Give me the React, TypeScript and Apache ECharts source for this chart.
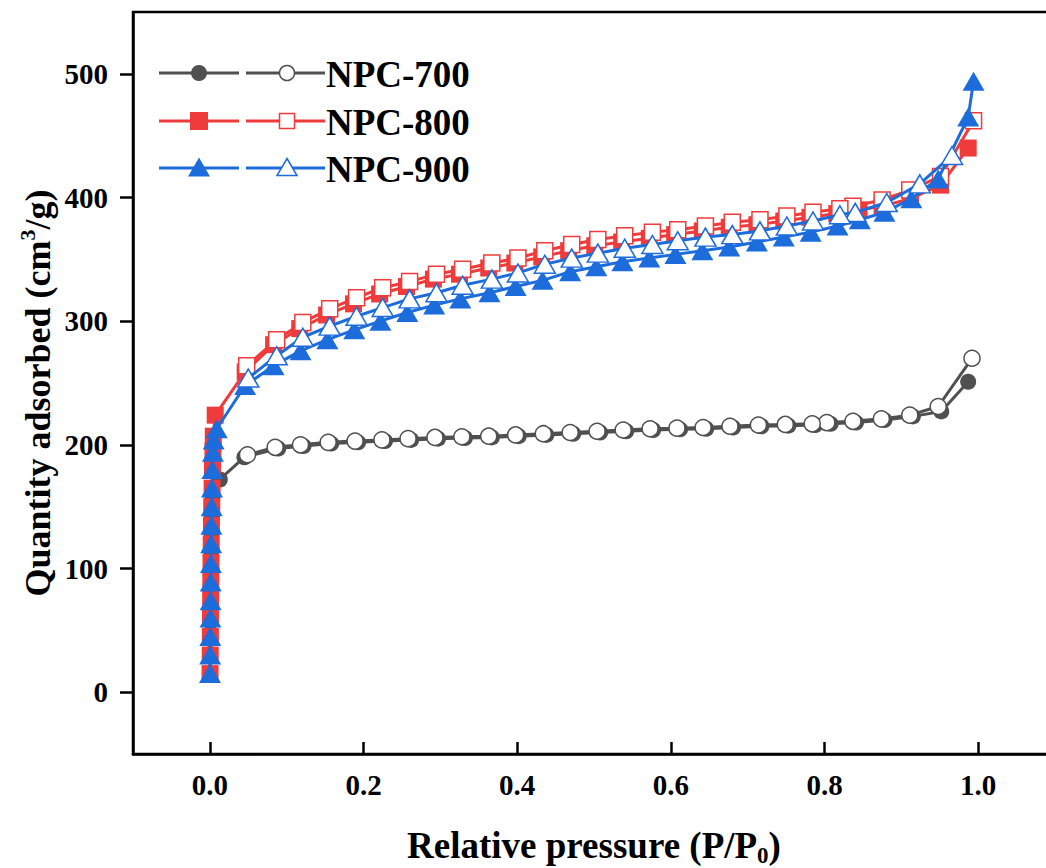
import React, { useEffect, useRef } from "react";
import * as echarts from "echarts";

const FONT = "'Liberation Serif', 'Times New Roman', serif";
const C700 = "#505050";
const C800 = "#ef3b3b";
const C900 = "#1c6cdc";

const xTicks = [0, 0.2, 0.4, 0.6, 0.8, 1.0];
const yTicks = [0, 100, 200, 300, 400, 500];

const npc700Ads = [
  [0.0003, 15], [0.0005, 29], [0.0007, 43], [0.0009, 57], [0.0011, 71], [0.0013, 86],
  [0.0016, 100], [0.0019, 114], [0.0023, 129], [0.0028, 143], [0.0035, 158], [0.013, 172],
  [0.045, 190], [0.089, 197], [0.122, 199], [0.158, 201], [0.193, 202], [0.228, 203],
  [0.262, 204], [0.297, 205], [0.332, 205.5], [0.367, 206], [0.402, 207], [0.438, 208],
  [0.473, 209], [0.508, 210], [0.542, 211], [0.577, 212], [0.612, 212.5], [0.646, 213],
  [0.681, 214], [0.718, 215], [0.753, 215.5], [0.788, 216], [0.808, 217], [0.841, 218],
  [0.878, 220], [0.915, 223], [0.952, 227], [0.987, 251],
];
const npc700Des = [
  [0.992, 270], [0.948, 231], [0.911, 224], [0.874, 221], [0.837, 219], [0.803, 218],
  [0.784, 217], [0.749, 216.5], [0.714, 216], [0.677, 215], [0.642, 214], [0.608, 213.5],
  [0.573, 213], [0.538, 212], [0.504, 211], [0.469, 210], [0.434, 209], [0.398, 208],
  [0.363, 207], [0.328, 206.5], [0.293, 206], [0.258, 205], [0.224, 204], [0.189, 203],
  [0.154, 202], [0.118, 200], [0.085, 198], [0.049, 192],
];
const npc800Ads = [
  [0.0003, 15], [0.0005, 30], [0.0007, 45], [0.0009, 60], [0.0011, 75], [0.0013, 90],
  [0.0015, 105], [0.0018, 120], [0.0021, 135], [0.0025, 150], [0.003, 165], [0.0035, 180],
  [0.004, 195], [0.0045, 207], [0.007, 224], [0.046, 259], [0.083, 281], [0.117, 294],
  [0.152, 305], [0.187, 314], [0.221, 322], [0.256, 328], [0.291, 334], [0.325, 338],
  [0.363, 343], [0.397, 347], [0.432, 352], [0.467, 357], [0.501, 361], [0.536, 364],
  [0.572, 367], [0.605, 370], [0.641, 373], [0.676, 376], [0.712, 378], [0.747, 381],
  [0.781, 384], [0.816, 387], [0.845, 390], [0.875, 393], [0.912, 399], [0.951, 410],
  [0.987, 440],
];
const npc800Des = [
  [0.994, 462], [0.951, 417], [0.911, 406], [0.875, 398], [0.837, 393], [0.820, 391],
  [0.785, 388], [0.751, 385], [0.716, 382], [0.680, 380], [0.645, 377], [0.609, 374],
  [0.576, 372], [0.540, 369], [0.505, 366], [0.471, 362], [0.436, 357], [0.401, 351],
  [0.367, 347], [0.329, 342], [0.295, 338], [0.260, 332], [0.225, 327], [0.191, 319],
  [0.156, 310], [0.121, 299], [0.087, 285], [0.048, 264],
];
const npc900Ads = [
  [0.0002, 15], [0.0004, 30], [0.0006, 45], [0.0008, 60], [0.001, 74], [0.0012, 89],
  [0.0014, 104], [0.0017, 120], [0.002, 135], [0.0024, 150], [0.0028, 165], [0.0033, 180],
  [0.004, 194], [0.005, 204], [0.009, 213], [0.046, 248], [0.083, 264], [0.118, 276],
  [0.153, 285], [0.188, 293], [0.222, 300], [0.257, 307], [0.292, 313], [0.326, 318],
  [0.364, 323], [0.398, 328], [0.433, 333], [0.469, 340], [0.503, 344], [0.537, 348],
  [0.572, 351], [0.606, 354], [0.641, 357], [0.676, 360], [0.712, 364], [0.747, 368],
  [0.782, 372], [0.817, 377], [0.846, 382], [0.878, 388], [0.913, 399], [0.948, 415],
  [0.987, 465], [0.994, 494],
];
const npc900Des = [
  [0.966, 434], [0.924, 411], [0.881, 396], [0.840, 388], [0.820, 386], [0.785, 381],
  [0.751, 377], [0.716, 373], [0.680, 370], [0.645, 368], [0.609, 365], [0.576, 362],
  [0.540, 359], [0.505, 355], [0.471, 351], [0.436, 346], [0.401, 339], [0.367, 334],
  [0.329, 329], [0.295, 323], [0.260, 318], [0.225, 311], [0.191, 304], [0.156, 296],
  [0.121, 287], [0.087, 272], [0.05, 254],
];

const legendRows = [
  { name: "NPC-700", color: C700, shape: "circle" },
  { name: "NPC-800", color: C800, shape: "rect" },
  { name: "NPC-900", color: C900, shape: "triangle" },
];

function mkSeries(data: number[][], color: string, symbol: string, size: any, hollow: boolean, z: number) {
  return {
    type: "line",
    data,
    symbol,
    symbolSize: size,
    showSymbol: true,
    showAllSymbol: true,
    z,
    lineStyle: { color, width: 3 },
    itemStyle: hollow
      ? { color: "#ffffff", borderColor: color, borderWidth: 1.5 }
      : { color, borderColor: color, borderWidth: 0 },
    emphasis: { disabled: true },
  };
}

function marker(shape: string, cx: number, cy: number, color: string, hollow: boolean): any {
  const style = hollow
    ? { fill: "#ffffff", stroke: color, lineWidth: 1.5 }
    : { fill: color, stroke: color, lineWidth: 0 };
  if (shape === "circle") {
    return { type: "circle", shape: { cx, cy, r: hollow ? 7.5 : 8 }, style, z: 10 };
  }
  if (shape === "rect") {
    const s = hollow ? 15 : 18;
    return { type: "rect", shape: { x: cx - s / 2, y: cy - s / 2, width: s, height: s }, style, z: 10 };
  }
  const w = hollow ? 20 : 22;
  const h = hollow ? 17 : 19;
  return {
    type: "polygon",
    shape: { points: [[cx, cy - h / 2 - 1], [cx + w / 2, cy + h / 2 - 1], [cx - w / 2, cy + h / 2 - 1]] },
    style,
    z: 10,
  };
}

export default function App() {
  const ref = useRef<HTMLDivElement>(null);
  useEffect(() => {
    if (!ref.current) return;
    const chart = echarts.init(ref.current, null, { renderer: "svg" });
    const graphics: any[] = [];
    const rowY = [73, 121, 168];
    legendRows.forEach((r, i) => {
      const y = rowY[i];
      graphics.push({ type: "line", shape: { x1: 159, y1: y, x2: 239, y2: y }, style: { stroke: r.color, lineWidth: 3 }, z: 9 });
      graphics.push({ type: "line", shape: { x1: 246, y1: y, x2: 325, y2: y }, style: { stroke: r.color, lineWidth: 3 }, z: 9 });
      graphics.push(marker(r.shape, 199, y, r.color, false));
      graphics.push(marker(r.shape, 287, y, r.color, true));
      graphics.push({
        type: "text",
        x: 326,
        y: y + 1,
        style: { text: r.name, font: `bold 37px ${FONT}`, fill: "#000", align: "left", verticalAlign: "middle" },
        z: 10,
      });
    });
    graphics.push({
      type: "text",
      x: 594,
      y: 845,
      style: {
        text: "{a|Relative pressure (P/P}{s|0}{a|)}",
        align: "center",
        verticalAlign: "middle",
        rich: {
          a: { font: `bold 37px ${FONT}`, fill: "#000", lineHeight: 44, verticalAlign: "middle" },
          s: { font: `bold 23px ${FONT}`, fill: "#000", lineHeight: 20, verticalAlign: "bottom" },
        },
      },
    });
    graphics.push({
      type: "text",
      x: 38,
      y: 393,
      rotation: Math.PI / 2,
      style: {
        text: "{a|Quantity adsorbed (cm}{p|3}{a|/g)}",
        align: "center",
        verticalAlign: "middle",
        rich: {
          a: { font: `bold 36px ${FONT}`, fill: "#000", lineHeight: 44, verticalAlign: "middle" },
          p: { font: `bold 22px ${FONT}`, fill: "#000", lineHeight: 26, verticalAlign: "top" },
        },
      },
    });

    chart.setOption({
      animation: false,
      grid: { left: 133, top: 12, width: 922, height: 742, show: true, borderColor: "#000", borderWidth: 2.5, backgroundColor: "transparent" },
      xAxis: {
        type: "value",
        min: -0.1,
        max: 1.1,
        axisLine: { show: true, onZero: false, lineStyle: { color: "#000", width: 2.5 } },
        axisTick: { show: true, inside: true, length: 12, customValues: xTicks, lineStyle: { color: "#000", width: 2.5 } },
        axisLabel: {
          customValues: xTicks,
          formatter: (v: number) => v.toFixed(1),
          margin: 16,
          fontFamily: FONT,
          fontWeight: "bold",
          fontSize: 29,
          color: "#000",
        },
        splitLine: { show: false },
      },
      yAxis: {
        type: "value",
        min: -50,
        max: 550,
        axisLine: { show: true, onZero: false, lineStyle: { color: "#000", width: 2.5 } },
        axisTick: { show: true, inside: false, length: 13, customValues: yTicks, lineStyle: { color: "#000", width: 2.5 } },
        axisLabel: {
          customValues: yTicks,
          margin: 25,
          fontFamily: FONT,
          fontWeight: "bold",
          fontSize: 29,
          color: "#000",
        },
        splitLine: { show: false },
      },
      series: [
        mkSeries(npc700Ads, C700, "circle", 16, false, 2),
        mkSeries(npc700Des, C700, "circle", 16, true, 3),
        mkSeries(npc800Ads, C800, "rect", 17, false, 4),
        mkSeries(npc800Des, C800, "rect", 16, true, 5),
        mkSeries(npc900Ads, C900, "triangle", [22, 19], false, 6),
        mkSeries(npc900Des, C900, "triangle", [21, 18], true, 7),
      ],
      graphic: graphics,
    });
    return () => chart.dispose();
  }, []);
  return (
    <div style={{ position: "fixed", left: 0, top: 0, width: 1046, height: 868, overflow: "hidden", background: "#fff" }}>
      <div ref={ref} style={{ width: 1090, height: 868 }} />
    </div>
  );
}
